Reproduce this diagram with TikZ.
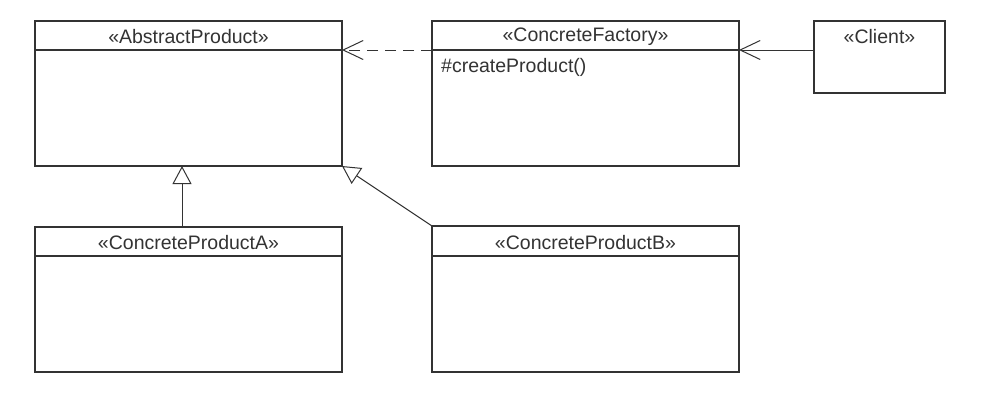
\documentclass[tikz,border=0pt]{standalone}
\usepackage{fontspec}
\setmainfont{Liberation Sans}
\usetikzlibrary{arrows.meta,calc}
\definecolor{ink}{HTML}{333333}
\begin{document}
\begin{tikzpicture}[x=1pt,y=-1pt,
  classbox/.style={draw=ink,line width=1.1pt,rectangle,inner sep=0pt,outer sep=0pt,anchor=north west},
  lbl/.style={font=\fontsize{19.5}{22}\selectfont,text=ink,inner sep=0pt},
  conn/.style={draw=ink,line width=1pt},
  assoc/.style={conn,-{Straight Barb[length=20pt,width=19pt,line width=1pt]}},
  inherit/.style={conn,-{Triangle[open,length=18pt,width=19pt,line width=1pt,fill=white]}}]
\useasboundingbox (0,0) rectangle (995,408);
\fill[white] (0,0) rectangle (995,408);
% boxes
\node[classbox,minimum width=307pt,minimum height=145pt] (ap) at (35,21) {};
\node[classbox,minimum width=307pt,minimum height=145pt] (cf) at (432,21) {};
\node[classbox,minimum width=131pt,minimum height=72pt] (cl) at (814,21) {};
\node[classbox,minimum width=307pt,minimum height=145pt] (pa) at (35,227) {};
\node[classbox,minimum width=307pt,minimum height=146pt] (pb) at (432,226) {};
% header separators
\foreach \b in {ap,cf,pa} {
  \draw[draw=ink,line width=1.1pt] ([yshift=-29pt]\b.north west) -- ([yshift=-29pt]\b.north east);
}
\draw[draw=ink,line width=1.1pt] ([yshift=-30pt]pb.north west) -- ([yshift=-30pt]pb.north east);
% labels
\node[lbl] (apt) at ($(ap.north)+(0,16)$) {«AbstractProduct»};
\node[lbl] (cft) at ($(cf.north)+(0,16)$) {«ConcreteFactory»};
\node[lbl] (clt) at ($(cl.north)+(0,16)$) {«Client»};
\node[lbl] (pat) at ($(pa.north)+(0,16)$) {«ConcreteProductA»};
\node[lbl] (pbt) at ($(pb.north)+(0,17)$) {«ConcreteProductB»};
\node[lbl,anchor=west] (cfm) at ($(cf.north west)+(9,46)$) {\#createProduct()};
% connectors
\coordinate (cfL) at ($(cf.north west)+(0,29)$);
\coordinate (cfR) at ($(cf.north east)+(0,29)$);
\coordinate (apR) at ($(ap.north east)+(0,29)$);
\coordinate (clL) at ($(cl.north west)+(0,29)$);
\coordinate (paT) at ($(pa.north west)+(147,0)$);
\draw[assoc,dashed,dash pattern=on 11pt off 7pt] (cfL) -- (apR);
\draw[assoc] (clL) -- (cfR);
\draw[inherit] (paT) -- (paT |- ap.south);
\draw[inherit] (pb.north west) -- (ap.south east);
\end{tikzpicture}
\end{document}
